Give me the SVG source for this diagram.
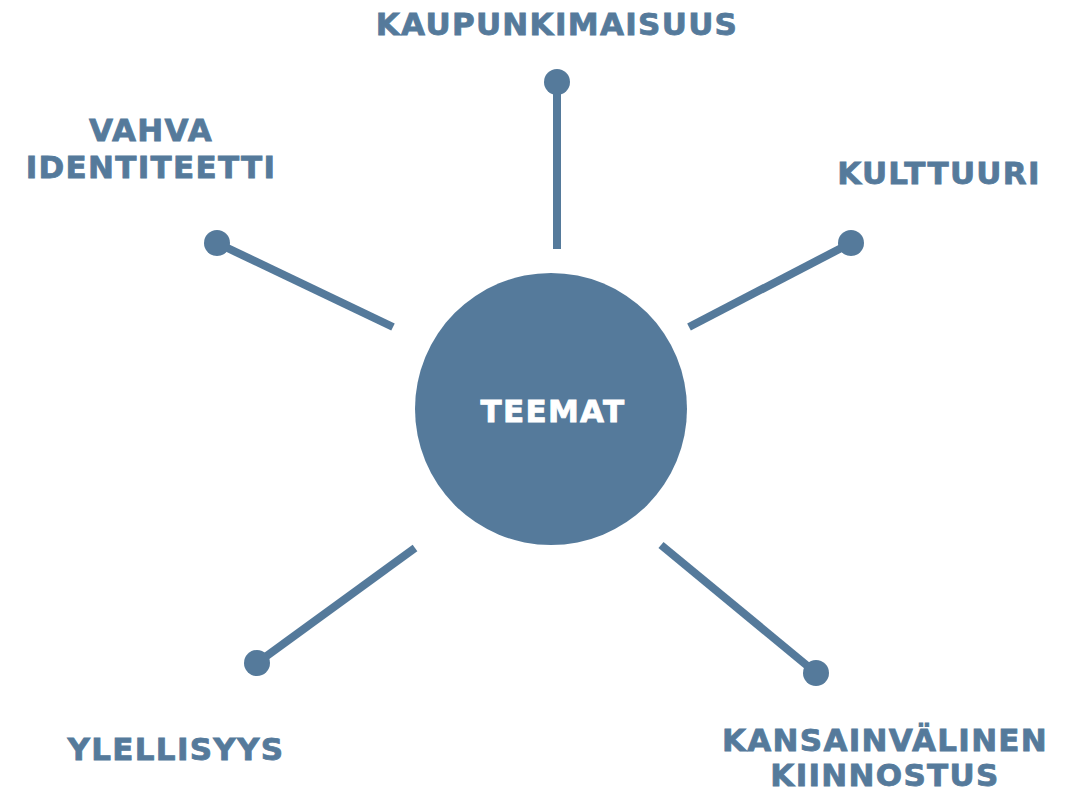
<svg xmlns="http://www.w3.org/2000/svg" width="1074" height="791" viewBox="0 0 1074 791">
<style>
.lbl{font-family:"DejaVu Sans","Verdana",sans-serif;font-weight:bold;font-size:31px;letter-spacing:1.3px;fill:#557a9b;stroke:#557a9b;stroke-width:0.8px;text-anchor:middle}
.ctr{font-family:"DejaVu Sans","Verdana",sans-serif;font-weight:bold;font-size:31px;letter-spacing:1.3px;fill:#ffffff;stroke:#ffffff;stroke-width:0.8px;text-anchor:middle}
.ln{stroke:#557a9b;stroke-width:8;fill:none}
.dot{fill:#557a9b}
</style>
<rect width="1074" height="791" fill="#ffffff"/>
<g id="connectors">
<line class="ln" x1="557" y1="83" x2="557" y2="249"/>
<line class="ln" x1="217" y1="243" x2="393" y2="327"/>
<line class="ln" x1="851" y1="243" x2="689" y2="327"/>
<line class="ln" x1="257" y1="663" x2="415" y2="548"/>
<line class="ln" x1="816" y1="673" x2="661" y2="545"/>
<circle class="dot" cx="557" cy="82" r="13"/>
<circle class="dot" cx="217" cy="243" r="13"/>
<circle class="dot" cx="851" cy="243" r="13"/>
<circle class="dot" cx="257" cy="663" r="13"/>
<circle class="dot" cx="816" cy="673" r="13"/>
</g>
<g id="teemat">
<circle cx="551" cy="409" r="136" fill="#557a9b"/>
<text class="ctr" x="553" y="422">TEEMAT</text>
</g>
<g id="kaupunkimaisuus"><text class="lbl" x="557" y="35">KAUPUNKIMAISUUS</text></g>
<g id="vahva-identiteetti"><text class="lbl" x="151" y="141">VAHVA</text><text class="lbl" x="151" y="178">IDENTITEETTI</text></g>
<g id="kulttuuri"><text class="lbl" x="939" y="184">KULTTUURI</text></g>
<g id="ylellisyys"><text class="lbl" x="176" y="760">YLELLISYYS</text></g>
<g id="kansainvalinen-kiinnostus"><text class="lbl" x="885" y="751">KANSAINVÄLINEN</text><text class="lbl" x="885" y="786">KIINNOSTUS</text></g>
</svg>
